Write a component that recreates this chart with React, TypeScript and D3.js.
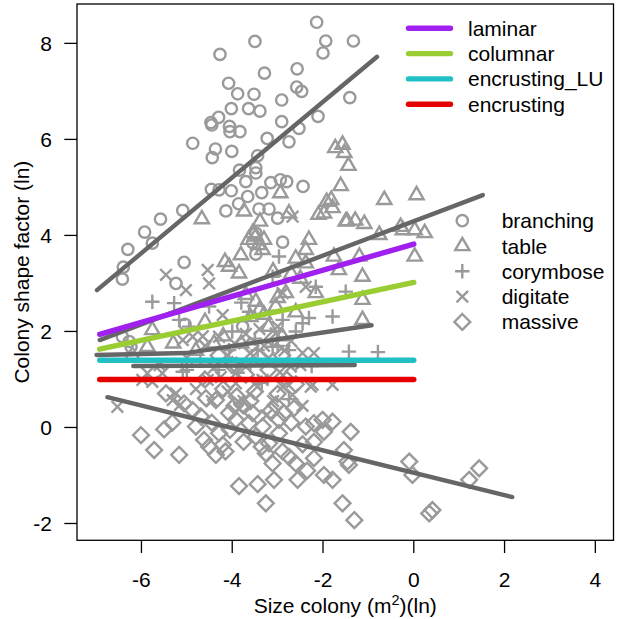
import React from 'react';
import * as d3 from 'd3';

// growth-form point clouds, [size (ln m2), shape factor (ln)]
const branching: [number, number][] = [
  [-2.14, 8.44], [-3.5, 8.04], [-1.94, 8.05], [-1.33, 8.05], [-4.27, 7.77], [-2.0, 7.8], [-3.29, 7.38],
  [-2.57, 7.47], [-4.08, 7.17], [-3.88, 6.95], [-3.52, 6.94], [-2.91, 6.82], [-2.58, 7.09], [-2.47, 7.0],
  [-1.41, 6.87], [-4.02, 6.64], [-3.64, 6.64], [-3.39, 6.59], [-4.3, 6.46], [-4.47, 6.35], [-4.45, 6.3],
  [-4.06, 6.27], [-4.05, 6.16], [-3.83, 6.16], [-2.91, 6.37], [-2.11, 6.48], [-2.53, 6.23], [-3.23, 6.02],
  [-2.75, 5.95], [-4.87, 5.92], [-4.37, 5.8], [-4.01, 5.75], [-4.44, 5.62], [-3.44, 5.66], [-3.84, 5.36],
  [-3.48, 5.41], [-3.48, 5.3], [-3.7, 5.12], [-3.15, 5.1], [-2.94, 5.16], [-2.8, 5.12], [-2.44, 5.02],
  [-4.46, 4.96], [-4.29, 4.95], [-4.02, 4.93], [-3.35, 4.89], [-3.66, 4.81], [-3.86, 4.66], [-4.14, 4.51],
  [-3.41, 4.55], [-3.19, 4.55], [-3.0, 4.36], [-5.09, 4.52], [-5.58, 4.34], [-5.93, 4.07], [-5.76, 3.84],
  [-6.3, 3.71], [-6.4, 3.34], [-5.06, 3.44], [-3.48, 4.05], [-2.89, 3.86], [-3.48, 3.61], [-6.42, 3.09],
  [-5.24, 3.0], [-6.42, 1.89], [-6.27, 1.79], [-6.23, 1.68], [-3.77, 2.1], [-5.04, 2.15], [-3.55, 3.85],
];

const table: [number, number][] = [
  [-1.73, 5.82], [-1.57, 5.89], [-1.53, 5.72], [-1.44, 5.45], [-1.61, 5.03], [-4.67, 4.34], [-2.94, 4.88],
  [-1.92, 4.7], [-1.82, 4.74], [-1.79, 4.57], [-2.1, 4.43], [-1.98, 4.46], [-3.74, 4.5], [-3.39, 4.29],
  [-2.75, 4.46], [-1.47, 4.3], [-1.29, 4.31], [-1.09, 4.24], [-3.64, 3.91], [-3.48, 3.98], [-3.3, 3.91],
  [-2.31, 3.91], [-2.38, 3.7], [-3.81, 3.59], [-1.76, 3.56], [-1.2, 3.56], [-4.16, 3.45], [-2.6, 3.52],
  [0.06, 4.84], [-0.24, 4.11], [0.02, 4.11], [0.24, 4.05], [0.02, 3.56], [-0.65, 4.74], [-1.5, 4.29],
  [-0.76, 4.01], [-0.29, 4.18], [-1.65, 3.28], [-1.13, 3.14], [-1.13, 2.66], [-1.13, 2.24], [-2.38, 3.42],
  [-4.07, 3.35], [-3.85, 3.21], [-3.7, 2.76], [-3.48, 2.62], [-5.76, 2.03], [-5.87, 1.68], [-3.04, 2.52],
  [-2.82, 2.8], [-2.16, 2.8], [-3.33, 3.7], [-3.6, 2.3], [-3.2, 2.1], [-2.9, 1.9], [-4.6, 2.2], [-4.2, 1.9],
  [-3.4, 2.45], [-2.6, 2.4], [-3.0, 2.7], [-5.3, 1.75], [-4.8, 1.6], [-6.2, 1.5], [-3.8, 1.75], [-2.5, 3.1],
  [-3.1, 3.25], [-3.55, 4.05], [-3.42, 3.8], [-2.7, 3.2], [-4.4, 1.75], [-3.3, 2.35],
];

const corymbose: [number, number][] = [
  [-5.76, 2.62], [-5.28, 2.59], [-2.97, 3.56], [-3.11, 3.14], [-2.16, 2.93], [-1.5, 2.83], [-1.79, 2.31],
  [-2.31, 2.28], [-2.45, 2.17], [-2.89, 2.24], [-5.17, 2.24], [-4.95, 2.1], [-1.43, 1.58], [-4.07, 1.61],
  [-3.63, 2.41], [-2.75, 1.61], [-3.44, 1.61], [-3.11, 1.68], [-4.51, 2.52], [-0.79, 1.57], [-5.09, 1.16],
  [-3.88, 1.14], [-3.35, 0.93], [-2.25, 1.28], [-2.75, 0.59], [-4.0, 2.0], [-3.5, 1.85], [-3.8, 2.6],
  [-3.0, 1.7], [-4.7, 1.4], [-5.0, 1.2], [-2.6, 2.0], [-4.3, 1.2], [-3.6, 1.3],
];

const digitate: [number, number][] = [
  [-5.46, 3.18], [-4.54, 3.28], [-4.51, 3.0], [-5.02, 2.86], [-2.67, 4.39], [-4.21, 2.34], [-2.89, 2.8],
  [-2.38, 2.93], [-3.04, 1.96], [-5.09, 1.82], [-4.87, 1.89], [-4.29, 1.89], [-2.45, 1.55], [-6.53, 0.43],
  [-5.98, 0.99], [-5.54, 1.13], [-5.87, 1.13], [-4.54, 0.99], [-3.92, 1.13], [-3.33, 0.99], [-2.71, 1.27],
  [-2.27, 0.85], [-1.79, 0.89], [-2.89, 0.85], [-5.31, 0.57], [-5.15, 0.47], [-5.76, 0.95], [-5.24, 0.71],
  [-3.92, 0.92], [-2.23, 0.89], [-2.67, 0.68], [-4.6, 1.7], [-4.1, 1.5], [-3.7, 1.95], [-3.3, 1.7],
  [-3.0, 2.1], [-2.7, 1.8], [-4.4, 1.25], [-3.8, 1.35], [-3.2, 1.45], [-5.0, 1.45], [-5.6, 1.3], [-2.5, 1.3],
  [-4.1, 0.75], [-3.75, 0.55], [-3.45, 0.85], [-3.1, 0.55], [-2.95, 1.15], [-4.25, 1.05], [-4.8, 0.8],
  [-3.6, 1.55], [-2.85, 1.6], [-3.95, 1.75], [-4.45, 0.55], [-3.25, 0.25], [-2.45, 0.45], [-4.65, 1.9],
  [-3.4, 2.05], [-2.2, 1.55], [-3.85, 0.4],
];

const massive: [number, number][] = [
  [-6.01, -0.16], [-5.72, -0.47], [-5.5, -0.04], [-5.17, -0.57], [-5.32, 0.1], [-5.06, 0.5], [-4.87, 0.36],
  [-4.8, 0.02], [-4.62, -0.26], [-4.51, -0.4], [-4.36, -0.57], [-4.29, -0.12], [-4.21, -0.36], [-4.07, 0.3],
  [-3.92, 0.16], [-4.36, 0.57], [-4.58, 0.61], [-3.77, 0.47], [-3.55, 0.3], [-3.33, 0.02], [-3.26, -0.54],
  [-3.11, -0.75], [-3.08, -1.09], [-3.44, -1.18], [-3.85, -1.22], [-3.26, -1.58], [-2.97, -0.12],
  [-2.89, -0.5], [-2.75, -0.61], [-2.6, -0.75], [-2.56, -1.09], [-2.97, 0.16], [-2.86, 0.3], [-2.64, 0.4],
  [-2.38, 0.02], [-2.2, 0.09], [-2.01, 0.16], [-1.79, 0.12], [-1.98, -0.09], [-2.2, -0.3], [-2.2, -0.64],
  [-1.98, -0.99], [-1.79, -1.09], [-1.39, -0.09], [-1.54, -0.47], [-1.46, -0.71], [-1.43, -0.78],
  [-1.57, -1.58], [-1.31, -1.93], [-0.1, -0.71], [-0.03, -0.99], [0.41, -1.72], [0.34, -1.79], [1.44, -0.85],
  [1.22, -1.09], [-3.19, -0.33], [-3.48, -0.19], [-3.63, 0.09], [-3.04, 0.47], [-4.69, 0.23], [-5.46, 0.71],
  [-4.2, 0.8], [-3.9, 0.65], [-3.5, 0.75], [-3.0, 0.7], [-2.6, 0.9], [-4.6, 1.0], [-3.7, 1.1], [-3.2, 1.2],
  [-2.8, 1.0], [-4.0, 1.3], [-3.4, 1.45], [-2.9, 1.5], [-3.6, 1.7], [-4.3, 1.5], [-3.1, 1.85],
  [-4.05, -0.05], [-3.75, -0.3], [-3.35, -0.4], [-2.45, -0.35], [-3.95, 0.45], [-4.45, 0.1], [-3.15, 0.35],
  [-2.7, 0.1], [-3.6, 0.55], [-4.15, -0.5], [-2.35, -0.9],
];

// fitted lines per growth form (grey)
const branchingFit: [number, number][] = [[-6.98, 2.86], [-0.81, 7.72]];
const tableFit: [number, number][] = [[-6.92, 1.82], [1.52, 4.84]];
const corymboseFit: [number, number][] = [[-6.99, 1.51], [-5.02, 1.55], [-0.93, 2.13]];
const digitateFit: [number, number][] = [[-6.18, 1.28], [-1.3, 1.3]];
const massiveFit: [number, number][] = [[-6.75, 0.63], [2.17, -1.45]];

// coloured reference lines
const laminarFit: [number, number][] = [[-6.92, 1.94], [0, 3.82]];
const columnarFit: [number, number][] = [[-6.92, 1.63], [0, 3.02]];
const encrustingLUFit: [number, number][] = [[-6.92, 1.4], [0, 1.4]];
const encrustingFit: [number, number][] = [[-6.92, 1.0], [0, 1.0]];

const lineLabels = ['laminar', 'columnar', 'encrusting_LU', 'encrusting'];
const lineColors = ['#a020f0', '#9acd32', '#20c0c4', '#e60000'];
const pointLabels = ['branching', 'table', 'corymbose', 'digitate', 'massive'];
const xTicks = [-6, -4, -2, 0, 2, 4];
const yTicks = [-2, 0, 2, 4, 6, 8];

const FONT = '"Liberation Sans", Arial, sans-serif';
const GREY = '#9a9a9a';
const DARK = '#666666';

export default function App() {
  const W = 617;
  const H = 619;
  const left = 77, right = 613.5, top = 4, bottom = 540.3;

  const x = d3.scaleLinear().domain([-7.42, 4.4]).range([left, right]);
  const y = d3.scaleLinear().domain([-2.35, 8.82]).range([bottom, top]);

  const line = d3.line<[number, number]>().x(d => x(d[0])).y(d => y(d[1]));

  const symbols = [
    d3.symbol().type(d3.symbolCircle).size(100)(),
    d3.symbol().type(d3.symbolTriangle2).size(145)(),
    d3.symbol().type(d3.symbolPlus).size(70)(),
    d3.symbol().type(d3.symbolX).size(90)(),
    d3.symbol().type(d3.symbolDiamond2).size(160)(),
  ];
  const groups = [branching, table, corymbose, digitate, massive];
  const greyFits = [branchingFit, tableFit, corymboseFit, digitateFit, massiveFit];
  const colourFits = [laminarFit, columnarFit, encrustingLUFit, encrustingFit];

  return (
    <svg width={W} height={H} style={{ position: 'absolute', left: 0, top: 0, background: '#fff' }}
      fontFamily={FONT} fontSize={21}>
      {/* points */}
      {groups.map((pts, gi) => (
        <g key={gi}>
          {pts.map((p, i) => (
            <path key={i} d={symbols[gi] || ''} transform={`translate(${x(p[0])},${y(p[1])})`}
              fill="none" stroke={GREY} strokeWidth={2.4} />
          ))}
        </g>
      ))}

      {/* grey fits */}
      {greyFits.map((f, i) => (
        <path key={i} d={line(f) || ''} fill="none" stroke={DARK} strokeWidth={4.4} strokeLinecap="round" />
      ))}

      {/* coloured fits */}
      {colourFits.map((f, i) => (
        <path key={i} d={line(f) || ''} fill="none" stroke={lineColors[i]} strokeWidth={5.4} strokeLinecap="round" />
      ))}

      {/* frame */}
      <rect x={left} y={top} width={right - left} height={bottom - top} fill="none" stroke="#000" strokeWidth={1.3} />

      {/* x axis */}
      {xTicks.map(t => (
        <g key={t}>
          <line x1={x(t)} x2={x(t)} y1={bottom} y2={bottom + 12.7} stroke="#000" strokeWidth={1.3} />
          <text x={x(t)} y={587} textAnchor="middle">{t}</text>
        </g>
      ))}
      <text x={(left + right) / 2} y={613} textAnchor="middle">
        Size colony (m<tspan fontSize={14.5} dy={-8}>2</tspan><tspan dy={8}>)(ln)</tspan>
      </text>

      {/* y axis */}
      {yTicks.map(t => (
        <g key={t}>
          <line x1={left - 12.7} x2={left} y1={y(t)} y2={y(t)} stroke="#000" strokeWidth={1.3} />
          <text x={52} y={y(t) + 7.5} textAnchor="end">{t}</text>
        </g>
      ))}
      <text transform={`translate(29,${(top + bottom) / 2}) rotate(-90)`} textAnchor="middle">
        Colony shape factor (ln)
      </text>

      {/* line legend */}
      {lineLabels.map((lab, i) => (
        <g key={lab} transform={`translate(0,${28.3 + i * 25.3})`}>
          <line x1={408.5} x2={450.5} y1={0} y2={0} stroke={lineColors[i]} strokeWidth={5.4} strokeLinecap="round" />
          <text x={468} y={7.5}>{lab}</text>
        </g>
      ))}

      {/* point legend */}
      {pointLabels.map((lab, i) => (
        <g key={lab} transform={`translate(0,${220.7 + i * 25.3})`}>
          <path d={symbols[i] || ''} transform="translate(462.3,0)" fill="none" stroke={GREY} strokeWidth={2.4} />
          <text x={501.7} y={7.5}>{lab}</text>
        </g>
      ))}
    </svg>
  );
}
